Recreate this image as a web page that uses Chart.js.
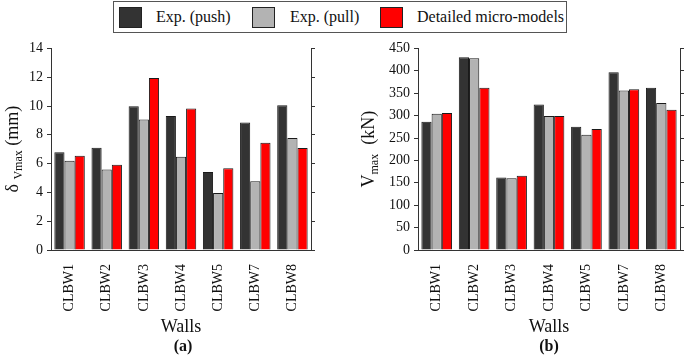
<!DOCTYPE html>
<html>
<head>
<meta charset="utf-8">
<script src="https://cdn.jsdelivr.net/npm/chart.js@4"></script>
<style>
  body { margin: 0; background: #fff; font-family: "Liberation Serif", serif; }
  #fig { position: relative; width: 685px; height: 364px; overflow: hidden; }
  .box { position: absolute; }
  #legend { position: absolute; left: 113px; top: 1px; width: 452px; height: 30px; border: 1px solid #555; }
  .sw { position: absolute; top: 5px; width: 21px; height: 19px; border: 1px solid #222; }
  .lt { position: absolute; top: 5px; font-size: 16px; line-height: 20px; color: #111; white-space: nowrap; }
  .cap { position: absolute; top: 337px; width: 60px; text-align: center; font-weight: bold; font-size: 16px; color: #111; }
</style>
</head>
<body>
<div id="fig">
  <div id="legend"></div>
  <div class="box" style="left:0;top:36px;width:340px;height:306px"><canvas id="chartA"></canvas></div>
  <div class="box" style="left:340px;top:36px;width:345px;height:306px"><canvas id="chartB"></canvas></div>
  <div class="cap" style="left:153px">(a)</div>
  <div class="cap" style="left:519px">(b)</div>
</div>
<script>
// walls tested
var walls = ['CLBW1', 'CLBW2', 'CLBW3', 'CLBW4', 'CLBW5', 'CLBW7', 'CLBW8'];
var seriesNames = ['Exp. (push)', 'Exp. (pull)', 'Detailed micro-models'];
var seriesColors = ['#333333', '#b3b3b3', '#ff0000'];

// (a) displacement at max shear, mm
var deltaPush  = [6.78, 7.10, 9.98, 9.31, 5.42, 8.86, 10.05];
var deltaPull  = [6.20, 5.59, 9.06, 6.47, 3.95, 4.77, 7.78];
var deltaModel = [6.55, 5.92, 11.94, 9.83, 5.67, 7.44, 7.08];

// (b) max shear, kN
var vPush  = [286, 430, 162, 325, 275, 397, 362];
var vPull  = [304, 428, 160, 299, 257, 356, 328];
var vModel = [306, 362, 166, 299, 270, 359, 313];

var deltaAxis = { min: 0, max: 14, step: 2 };
var vAxis = { min: 0, max: 450, step: 50 };

var FONT = '"Liberation Serif", serif';
var AXIS = '#333';

// legend (html)
var legend = document.getElementById('legend');
var swLeft = [5, 138, 266];
var txLeft = [42, 176, 303];
seriesNames.forEach(function (name, i) {
    var s = document.createElement('div');
    s.className = 'sw';
    s.style.left = swLeft[i] + 'px';
    s.style.background = seriesColors[i];
    legend.appendChild(s);
    var t = document.createElement('div');
    t.className = 'lt';
    t.style.left = txLeft[i] + 'px';
    t.textContent = name;
    legend.appendChild(t);
});

// rotated y title with subscript (parts kept in closure, not plugin options)
function yTitlePlugin(titleX, parts) {
    return {
        id: 'yTitle',
        afterDraw: function (chart) {
            var ctx = chart.ctx;
            var area = chart.chartArea;
            ctx.save();
            ctx.fillStyle = '#111';
            ctx.textBaseline = 'alphabetic';
            ctx.textAlign = 'left';
            var widths = [];
            var total = 0;
            parts.forEach(function (p) {
                ctx.font = p.size + 'px ' + FONT;
                var w = ctx.measureText(p.text).width;
                widths.push(w);
                total += w;
            });
            ctx.translate(titleX, (area.top + area.bottom) / 2);
            ctx.rotate(-Math.PI / 2);
            var x = -total / 2;
            parts.forEach(function (p, i) {
                ctx.font = p.size + 'px ' + FONT;
                ctx.fillText(p.text, x, 6 + (p.shift || 0));
                x += widths[i];
            });
            ctx.restore();
        }
    };
}

function makeChart(id, data, axis, leftW, rightW, titleX, titleParts) {
    var ds = data.map(function (vals, i) {
        return {
            label: seriesNames[i],
            data: vals,
            backgroundColor: seriesColors[i],
            borderColor: '#1a1a1a',
            borderWidth: 1,
            categoryPercentage: 0.82,
            barPercentage: 1.0
        };
    });
    var yCommon = {
        min: axis.min,
        max: axis.max,
        grid: { drawOnChartArea: false, tickLength: 4, color: AXIS },
        border: { display: true, color: AXIS, width: 1 }
    };
    return new Chart(document.getElementById(id), {
        type: 'bar',
        data: { labels: walls, datasets: ds },
        options: {
            responsive: true,
            maintainAspectRatio: false,
            animation: false,
            layout: { padding: { top: 7, left: 0, right: 0, bottom: 0 } },
            plugins: {
                legend: { display: false },
                tooltip: { enabled: false }
            },
            scales: {
                x: {
                    grid: { display: false },
                    border: { display: true, color: AXIS, width: 1 },
                    ticks: {
                        minRotation: 90, maxRotation: 90, padding: 6,
                        color: '#111', font: { family: FONT, size: 14 }
                    },
                    title: {
                        display: true, text: 'Walls', color: '#111',
                        font: { family: FONT, size: 18 }, padding: { top: 4, bottom: 4 }
                    },
                    afterFit: function (s) { s.height = 92; }
                },
                y: Object.assign({}, yCommon, {
                    position: 'left',
                    ticks: {
                        stepSize: axis.step, padding: 4, color: '#111',
                        font: { family: FONT, size: 14 }
                    },
                    afterFit: function (s) { s.width = leftW; }
                }),
                y2: Object.assign({}, yCommon, {
                    position: 'right',
                    ticks: { stepSize: axis.step, display: false },
                    afterFit: function (s) { s.width = rightW; }
                })
            }
        },
        plugins: [yTitlePlugin(titleX, titleParts)]
    });
}

makeChart('chartA', [deltaPush, deltaPull, deltaModel], deltaAxis, 51, 29, 12, [
    { text: 'δ ', size: 18 },
    { text: 'Vmax', size: 12, shift: 4 },
    { text: ' (mm)', size: 18 }
]);

makeChart('chartB', [vPush, vPull, vModel], vAxis, 78, 5, 28, [
    { text: 'V', size: 18 },
    { text: 'max', size: 12, shift: 4 },
    { text: '  (kN)', size: 18 }
]);
</script>
</body>
</html>
